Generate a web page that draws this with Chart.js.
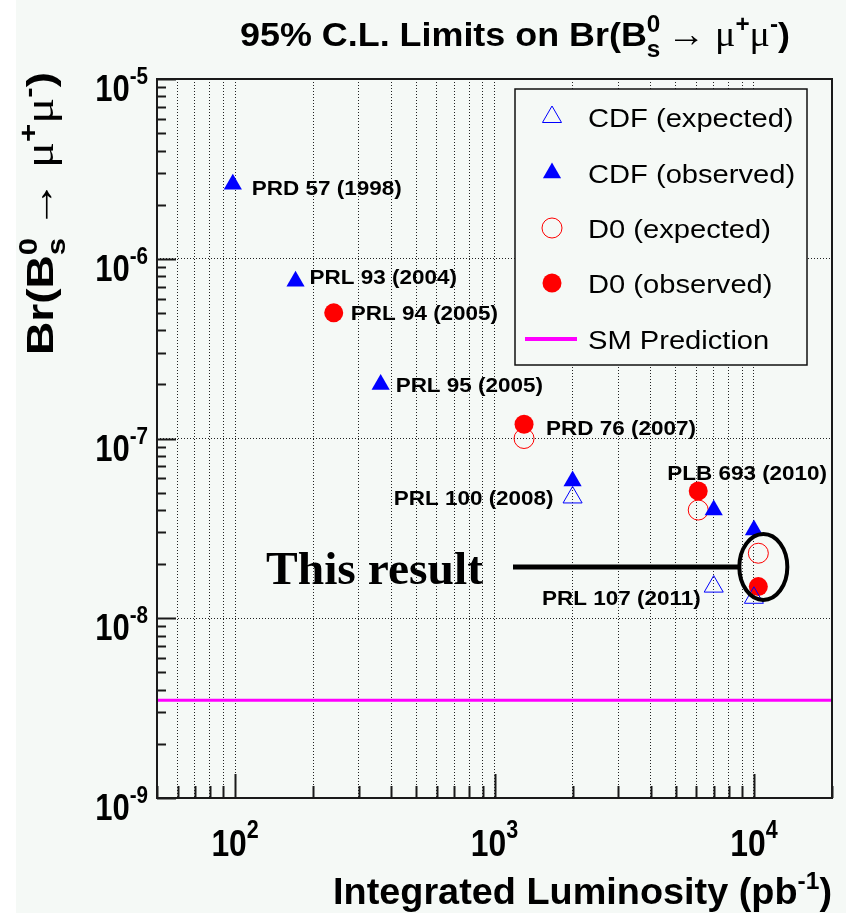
<!DOCTYPE html>
<html>
<head>
<meta charset="utf-8">
<script src="https://cdn.jsdelivr.net/npm/chart.js@4.4.0/dist/chart.umd.min.js"></script>
<style>
  body { margin: 0; background: #f5f9f6; }
  #wrap { width: 846px; height: 913px; position: relative; }
</style>
</head>
<body>
<div id="wrap"><canvas id="myChart"></canvas></div>
<script>
// luminosity (pb^-1) and 95% C.L. limits
const cdfExpLumi = [2000, 7000, 10000];
const cdfExpLimit = [4.7e-8, 1.5e-8, 1.3e-8];
const cdfObsLumi = [98, 171, 364, 2000, 7000, 10000];
const cdfObsLimit = [2.6e-6, 7.5e-7, 2.0e-7, 5.8e-8, 4.0e-8, 3.1e-8];
const d0ExpLumi = [1300, 6100, 10400];
const d0ExpLimit = [1.0e-7, 4.0e-8, 2.3e-8];
const d0ObsLumi = [240, 1300, 6100, 10400];
const d0ObsLimit = [5.0e-7, 1.2e-7, 5.1e-8, 1.5e-8];
const smPrediction = 3.5e-9;

const seriesNames = ['CDF (expected)', 'CDF (observed)', 'D0 (expected)', 'D0 (observed)', 'SM Prediction'];
const xRange = [50, 20000];
const yRange = [1e-9, 1e-5];
const xLabelExps = [2, 3, 4];
const yLabelExps = [-9, -8, -7, -6, -5];

// publication tags, attached to a point of a series
const pubLabels = [
  { text: 'PRD 57 (1998)', series: 1, idx: 0 },
  { text: 'PRL 93 (2004)', series: 1, idx: 1 },
  { text: 'PRL 94 (2005)', series: 3, idx: 0 },
  { text: 'PRL 95 (2005)', series: 1, idx: 2 },
  { text: 'PRD 76 (2007)', series: 3, idx: 1 },
  { text: 'PRL 100 (2008)', series: 1, idx: 3 },
  { text: 'PLB 693 (2010)', series: 3, idx: 2 },
  { text: 'PRL 107 (2011)', series: 0, idx: 1 }
];
// pixel offsets of the tags (layout only)
const pubOffsets = [
  [19, 11, 'left'], [14, 3, 'left'], [17, 7, 'left'], [15, 8, 'left'],
  [22, 11, 'left'], [-19, 24, 'right'], [-31, -11, 'left'], [-13, 18, 'right']
];

const SANS = '"Liberation Sans", Arial, Helvetica, sans-serif';
const SERIF = '"Liberation Serif", "Times New Roman", serif';

function pts(xs, ys) {
  return xs.map((x, i) => ({ x: x, y: ys[i] }));
}

function gridValues(lo, hi) {
  const out = [];
  for (let e = Math.floor(Math.log10(lo)); e <= Math.ceil(Math.log10(hi)); e++) {
    for (let k = 1; k <= 9; k++) {
      const v = k * Math.pow(10, e);
      if (v >= lo * 0.999 && v <= hi * 1.001) out.push(v);
    }
  }
  return out;
}

function richWidth(ctx, parts) {
  let w = 0;
  parts.forEach(p => {
    ctx.font = p.font;
    let pw = ctx.measureText(p.t).width;
    if (p.sub) { ctx.font = p.sub.font; pw = Math.max(pw, ctx.measureText(p.sub.t).width); }
    w += pw + (p.gap || 0);
  });
  return w;
}

function drawRich(ctx, parts, x, y, o) {
  const natural = richWidth(ctx, parts);
  const sx = o.width ? o.width / natural : (o.sx || 1);
  const total = natural * sx;
  ctx.save();
  ctx.translate(x, y);
  if (o.rotate) ctx.rotate(o.rotate);
  const start = o.align === 'right' ? -total : (o.align === 'center' ? -total / 2 : 0);
  ctx.translate(start, 0);
  ctx.scale(sx, 1);
  ctx.textAlign = 'left';
  ctx.textBaseline = 'alphabetic';
  ctx.fillStyle = o.color || '#000';
  let cx = 0;
  parts.forEach(p => {
    ctx.font = p.font;
    let pw = ctx.measureText(p.t).width;
    ctx.fillText(p.t, cx, p.dy || 0);
    if (p.sub) {
      ctx.font = p.sub.font;
      pw = Math.max(pw, ctx.measureText(p.sub.t).width);
      ctx.fillText(p.sub.t, cx, p.sub.dy);
    }
    cx += pw + (p.gap || 0);
  });
  ctx.restore();
}

function bsTitleParts(size, bold) {
  const B = 'bold ' + size + 'px ' + SANS;
  const sm = 'bold ' + Math.round(size * 0.68) + 'px ' + SANS;
  const G = Math.round(size * 1.05) + 'px ' + SERIF;
  const r = Math.round(size * 0.42);
  return [
    { t: bold, font: B },
    { t: '0', font: sm, dy: -r, sub: { t: 's', font: sm, dy: Math.round(size * 0.32) }, gap: size * 0.2 },
    { t: '\u2192 ', font: G },
    { t: '\u03bc', font: G },
    { t: '+', font: sm, dy: -r },
    { t: '\u03bc', font: G },
    { t: '-', font: sm, dy: -r },
    { t: ')', font: B }
  ];
}

const bgPlugin = {
  id: 'bg',
  beforeDraw(chart) {
    const ctx = chart.ctx;
    ctx.save();
    ctx.fillStyle = '#f5f9f6';
    ctx.fillRect(0, 0, chart.width, chart.height);
    ctx.fillStyle = '#ffffff';
    ctx.fillRect(0, 0, 16, chart.height);
    ctx.restore();
  }
};

const decoPlugin = {
  id: 'deco',
  afterDraw(chart) {
    const ctx = chart.ctx;
    const a = chart.chartArea;
    const xs = chart.scales.x, ys = chart.scales.y;

    // frame
    ctx.save();
    ctx.strokeStyle = '#1a1a1a';
    ctx.lineWidth = 2;
    ctx.strokeRect(a.left, a.top, a.right - a.left, a.bottom - a.top);

    // inward tick marks
    gridValues(xRange[0], xRange[1]).forEach(v => {
      const px = Math.round(xs.getPixelForValue(v)) + 0.5;
      const major = Math.abs(Math.log10(v) % 1) < 1e-6;
      ctx.beginPath();
      ctx.moveTo(px, a.bottom);
      ctx.lineTo(px, a.bottom - (major ? 24 : 12));
      ctx.stroke();
    });
    gridValues(yRange[0], yRange[1]).forEach(v => {
      const py = Math.round(ys.getPixelForValue(v)) + 0.5;
      const major = Math.abs(Math.log10(v) - Math.round(Math.log10(v))) < 1e-6;
      ctx.beginPath();
      ctx.moveTo(a.left, py);
      ctx.lineTo(a.left + (major ? 19 : 9), py);
      ctx.stroke();
    });
    ctx.restore();

    // tick labels
    xLabelExps.forEach(e => {
      const px = xs.getPixelForValue(Math.pow(10, e));
      drawRich(ctx, [
        { t: '10', font: 'bold 37px ' + SANS },
        { t: String(e), font: 'bold 25px ' + SANS, dy: -18 }
      ], px, 856, { align: 'center', sx: 0.86 });
    });
    yLabelExps.forEach(e => {
      const py = ys.getPixelForValue(Math.pow(10, e));
      drawRich(ctx, [
        { t: '10', font: 'bold 36px ' + SANS },
        { t: String(e), font: 'bold 24px ' + SANS, dy: -17 }
      ], 148, py + 22, { align: 'right', sx: 0.86 });
    });

    // axis titles
    drawRich(ctx, [
      { t: 'Integrated Luminosity (pb', font: 'bold 37px ' + SANS },
      { t: '-1', font: 'bold 24px ' + SANS, dy: -15 },
      { t: ')', font: 'bold 37px ' + SANS }
    ], a.right, 904, { align: 'right', width: 499 });
    drawRich(ctx, bsTitleParts(37, 'Br(B'), 53, 355, { rotate: -Math.PI / 2, width: 283 });

    // main title
    drawRich(ctx, bsTitleParts(34, '95% C.L. Limits on Br(B'), 240, 46, { width: 550 });

    // publication tags
    pubLabels.forEach((l, i) => {
      const d = chart.data.datasets[l.series].data[l.idx];
      const o = pubOffsets[i];
      drawRich(ctx, [{ t: l.text, font: 'bold 21px ' + SANS }],
        xs.getPixelForValue(d.x) + o[0], ys.getPixelForValue(d.y) + o[1], { align: o[2], sx: 1.07 });
    });

    // "This result" marker around the newest D0 points
    const lastX = d0ObsLumi[d0ObsLumi.length - 1];
    const cx = xs.getPixelForValue(lastX) + 5;
    const cy = (ys.getPixelForValue(d0ObsLimit[d0ObsLimit.length - 1]) + ys.getPixelForValue(d0ExpLimit[d0ExpLimit.length - 1])) / 2 - 3;
    ctx.save();
    ctx.strokeStyle = '#000';
    ctx.lineWidth = 4;
    ctx.beginPath();
    ctx.ellipse(cx, cy, 24, 33, 0, 0, Math.PI * 2);
    ctx.stroke();
    ctx.lineWidth = 5;
    ctx.beginPath();
    ctx.moveTo(513, cy);
    ctx.lineTo(cx - 24, cy);
    ctx.stroke();
    ctx.restore();
    drawRich(ctx, [{ t: 'This result', font: 'bold 46px ' + SERIF }], 266, cy + 17, { width: 217 });

    // legend box
    const L = { x: 515, y: 89, w: 292, h: 276 };
    ctx.save();
    ctx.fillStyle = '#f5f9f6';
    ctx.fillRect(L.x, L.y, L.w, L.h);
    ctx.strokeStyle = '#111';
    ctx.lineWidth = 1.5;
    ctx.strokeRect(L.x, L.y, L.w, L.h);
    ctx.restore();
    const rowY = [117, 173, 228, 283, 339];
    chart.data.datasets.forEach((ds, i) => {
      const y = rowY[i];
      ctx.save();
      if (ds.type === 'line') {
        ctx.strokeStyle = ds.borderColor;
        ctx.lineWidth = 4;
        ctx.beginPath();
        ctx.moveTo(525, y);
        ctx.lineTo(577, y);
        ctx.stroke();
      } else {
        ctx.fillStyle = ds.backgroundColor;
        ctx.strokeStyle = ds.borderColor;
        ctx.lineWidth = ds.borderWidth;
        Chart.helpers.drawPoint(ctx, {
          pointStyle: ds.pointStyle, radius: ds.pointRadius, rotation: 0, borderWidth: ds.borderWidth
        }, 552, y);
      }
      ctx.restore();
      drawRich(ctx, [{ t: ds.label, font: '26px ' + SANS }], 588, y + 10, { sx: 1.12 });
    });
  }
};

const ctx = document.getElementById('myChart').getContext('2d');
const xGrid = gridValues(xRange[0], xRange[1]);
const yGrid = yLabelExps.map(e => Math.pow(10, e));

const myChart = new Chart(ctx, {
  type: 'scatter',
  data: {
    datasets: [{
      label: seriesNames[0],
      data: pts(cdfExpLumi, cdfExpLimit),
      pointStyle: 'triangle',
      pointRadius: 11,
      backgroundColor: 'rgba(0,0,0,0)',
      borderColor: '#0000ff',
      borderWidth: 1
    }, {
      label: seriesNames[1],
      data: pts(cdfObsLumi, cdfObsLimit),
      pointStyle: 'triangle',
      pointRadius: 10.5,
      backgroundColor: '#0000ff',
      borderColor: '#0000ff',
      borderWidth: 0
    }, {
      label: seriesNames[2],
      data: pts(d0ExpLumi, d0ExpLimit),
      pointStyle: 'circle',
      pointRadius: 10,
      backgroundColor: 'rgba(0,0,0,0)',
      borderColor: '#ff0000',
      borderWidth: 1
    }, {
      label: seriesNames[3],
      data: pts(d0ObsLumi, d0ObsLimit),
      pointStyle: 'circle',
      pointRadius: 9.5,
      backgroundColor: '#ff0000',
      borderColor: '#ff0000',
      borderWidth: 0
    }, {
      type: 'line',
      label: seriesNames[4],
      data: [{ x: xRange[0], y: smPrediction }, { x: xRange[1], y: smPrediction }],
      borderColor: '#ff00ff',
      borderWidth: 3,
      pointRadius: 0,
      fill: false
    }]
  },
  options: {
    responsive: true,
    maintainAspectRatio: false,
    animation: false,
    devicePixelRatio: 1,
    layout: { padding: { left: 157, top: 79, right: 14, bottom: 115 } },
    plugins: {
      legend: { display: false },
      tooltip: { enabled: false }
    },
    scales: {
      x: {
        type: 'logarithmic',
        min: xRange[0],
        max: xRange[1],
        afterBuildTicks: axis => { axis.ticks = xGrid.map(v => ({ value: v })); },
        ticks: { display: false },
        grid: { color: '#222', lineWidth: 1, drawTicks: false },
        border: { display: false, dash: [1, 2] }
      },
      y: {
        type: 'logarithmic',
        min: yRange[0],
        max: yRange[1],
        afterBuildTicks: axis => { axis.ticks = yGrid.map(v => ({ value: v })); },
        ticks: { display: false },
        grid: { color: '#222', lineWidth: 1, drawTicks: false },
        border: { display: false, dash: [1, 2] }
      }
    }
  },
  plugins: [bgPlugin, decoPlugin]
});
</script>
</body>
</html>
